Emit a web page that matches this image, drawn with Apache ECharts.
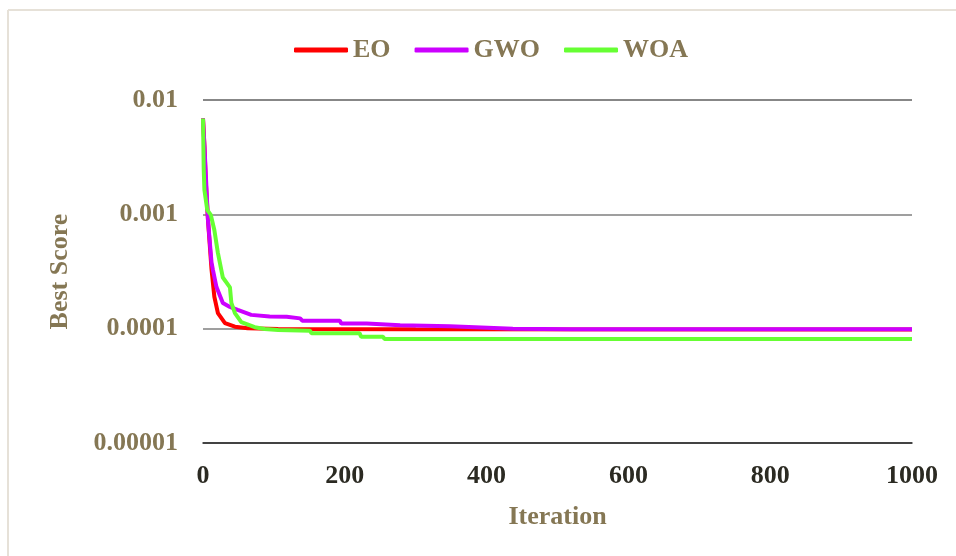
<!DOCTYPE html>
<html>
<head>
<meta charset="utf-8">
<script src="https://cdn.jsdelivr.net/npm/echarts@6/dist/echarts.min.js"></script>
<style>html,body{margin:0;padding:0;background:#fff}#c{width:956px;height:556px}</style>
</head>
<body>
<div id="c"></div>
<script>
const seriesNames = ['EO', 'GWO', 'WOA'];
const seriesColors = ['#ff0000', '#cc00ff', '#66ff33'];
const xTicks = [0, 200, 400, 600, 800, 1000];
const yTickLabels = ['0.00001', '0.0001', '0.001', '0.01'];

const eoData = [
  [0, 0.0069], [2, 0.004], [4, 0.0019], [7, 0.0009], [12, 0.00033], [16, 0.00019],
  [21, 0.000137], [31, 0.000112], [45, 0.000104], [63, 0.000101], [106, 0.0000993],
  [300, 0.0000988], [1000, 0.0000983]
];
const gwoData = [
  [0, 0.0069], [2, 0.004], [4, 0.0022], [7, 0.00089], [12, 0.00038], [14, 0.000326],
  [19, 0.000231], [28, 0.000168], [38, 0.000155], [49, 0.000146], [68, 0.000132],
  [94, 0.000128], [118, 0.000127], [120, 0.000123], [137, 0.000123], [140, 0.0001175],
  [193, 0.0001175], [195, 0.000111], [231, 0.000111], [233, 0.000108], [278, 0.000107],
  [348, 0.000105], [437, 0.0001], [520, 0.0000988], [1000, 0.0000988]
];
const woaData = [
  [0, 0.0069], [1, 0.0025], [2, 0.00163], [6, 0.00109], [11, 0.00099], [16, 0.00073],
  [21, 0.00046], [28, 0.00028], [38, 0.00023], [40, 0.000168], [45, 0.000137],
  [54, 0.000114], [73, 0.000103], [87, 0.0000993], [106, 0.0000973], [151, 0.000096],
  [153, 0.000091], [221, 0.000091], [223, 0.0000851], [254, 0.0000851], [256, 0.0000812],
  [1000, 0.0000812]
];
const allData = [eoData, gwoData, woaData];

const brown = '#857754';
const font = 'Liberation Serif';
const fs = 26;
const chart = echarts.init(document.getElementById('c'));
chart.setOption({
  animation: false,
  backgroundColor: '#ffffff',
  graphic: [
    { type: 'line', silent: true, z: -1, shape: { x1: 8, y1: 10, x2: 956, y2: 10 },
      style: { stroke: '#e6e1d8', lineWidth: 2 } },
    { type: 'line', silent: true, z: -1, shape: { x1: 8, y1: 10, x2: 8, y2: 556 },
      style: { stroke: '#e6e1d8', lineWidth: 2 } }
  ],
  legend: {
    left: 289, top: 32, itemWidth: 54, itemHeight: 5, itemGap: 24,
    icon: 'roundRect',
    data: seriesNames,
    textStyle: { fontFamily: font, fontWeight: 'bold', fontSize: fs, color: brown }
  },
  grid: { left: 203, right: 44, top: 100, bottom: 113, containLabel: false },
  xAxis: {
    type: 'value', min: xTicks[0], max: xTicks[xTicks.length - 1], interval: 200,
    name: 'Iteration', nameLocation: 'middle', nameGap: 61,
    nameTextStyle: { fontFamily: font, fontWeight: 'bold', fontSize: fs, color: brown },
    axisLine: { show: true, lineStyle: { color: '#262626', width: 1.5 } },
    axisTick: { show: false },
    splitLine: { show: false },
    axisLabel: {
      margin: 20, fontFamily: font, fontWeight: 'bold', fontSize: fs, color: '#2b2a22',
      formatter: function (v) { return String(v); }
    }
  },
  yAxis: {
    type: 'log', logBase: 10, min: 0.00001, max: 0.01,
    name: 'Best Score', nameLocation: 'middle', nameGap: 130,
    nameTextStyle: { fontFamily: font, fontWeight: 'bold', fontSize: fs, color: brown },
    axisLine: { show: false },
    axisTick: { show: false },
    splitLine: { show: true, lineStyle: { color: '#7f7f7f', width: 1.5 } },
    axisLabel: {
      margin: 25, fontFamily: font, fontWeight: 'bold', fontSize: fs, color: brown,
      formatter: function (v) {
        const e = Math.round(Math.log10(v));
        return yTickLabels[e + 5] || '';
      }
    }
  },
  series: seriesNames.map((n, i) => ({
    name: n, type: 'line', data: allData[i], showSymbol: false, symbol: 'none',
    color: seriesColors[i],
    lineStyle: { color: seriesColors[i], width: 4 },
    z: 2 + i
  }))
});
</script>
</body>
</html>
